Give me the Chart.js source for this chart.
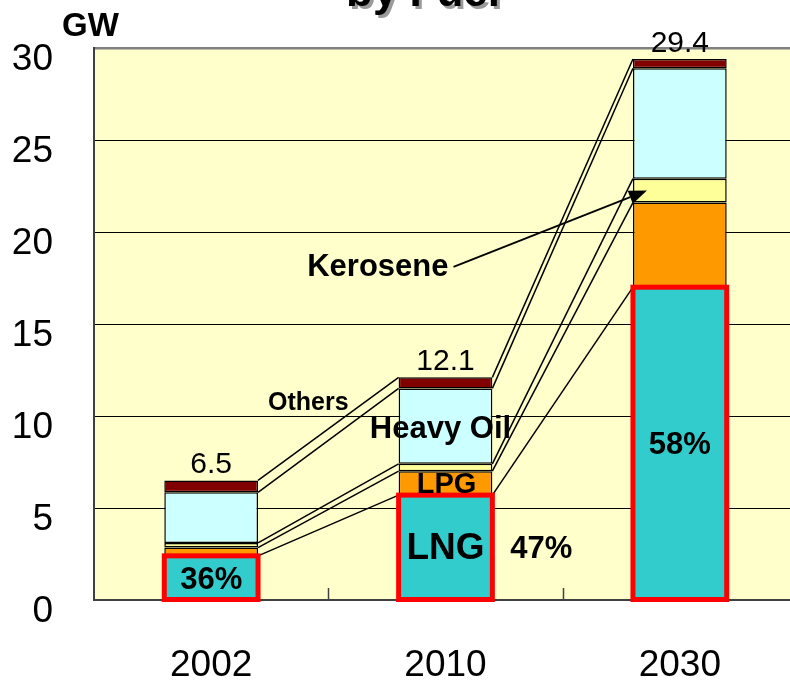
<!DOCTYPE html>
<html>
<head>
<meta charset="utf-8">
<script src="https://cdn.jsdelivr.net/npm/chart.js@4.4.1/dist/chart.umd.min.js"></script>
<style>
  html, body { margin: 0; padding: 0; background: #ffffff; overflow: hidden; width: 790px; height: 684px; }
  canvas { display: block; }
</style>
</head>
<body>
<canvas id="c" width="800" height="684"></canvas>
<script>
const categories = ['2002', '2010', '2030'];
const lng = [2.4, 5.7, 17.0];
const lpg = [0.45, 1.3, 4.6];
const kerosene = [0.25, 0.4, 1.3];
const heavyOil = [2.75, 4.1, 6.0];
const others = [0.65, 0.6, 0.5];
const totalLabels = ['6.5', '12.1', '29.4'];
const lngShares = ['36%', '47%', '58%'];
const yTicks = [0, 5, 10, 15, 20, 25, 30];

const FONT = '"Liberation Sans", Arial, Helvetica, sans-serif';

const overlay = {
  id: 'overlay',
  beforeDraw(chart) {
    const { ctx, chartArea: a } = chart;
    ctx.save();
    ctx.fillStyle = '#FFFFCC';
    ctx.fillRect(a.left, a.top, a.right - a.left, a.bottom - a.top);
    ctx.restore();
  },
  afterDatasetsDraw(chart) {
    const ctx = chart.ctx;
    const a = chart.chartArea;
    const ys = chart.scales.y;
    const metas = chart.data.datasets.map((d, i) => chart.getDatasetMeta(i));
    const el = (i, k) => metas[i].data[k].getProps(['x', 'y', 'base', 'width'], true);
    const n = categories.length;

    ctx.save();
    ctx.strokeStyle = '#000';
    ctx.lineWidth = 1.5;
    for (let i = 0; i < metas.length; i++) {
      for (let k = 0; k < n - 1; k++) {
        const p = el(i, k), q = el(i, k + 1);
        ctx.beginPath();
        ctx.moveTo(p.x + p.width / 2, p.y);
        ctx.lineTo(q.x - q.width / 2, q.y);
        ctx.stroke();
      }
    }
    ctx.strokeStyle = '#FF0000';
    ctx.lineWidth = 5;
    for (let k = 0; k < n; k++) {
      const p = el(0, k);
      ctx.strokeRect(p.x - p.width / 2, p.y, p.width, p.base - p.y);
    }
    ctx.strokeStyle = '#404040';
    ctx.lineWidth = 1.5;
    for (let k = 0; k < n; k++) {
      const p = el(0, k);
      const next = k < n - 1 ? el(0, k + 1).x : p.x + (p.x - el(0, k - 1).x);
      const bx = Math.round((p.x + next) / 2) + 0.5;
      ctx.beginPath();
      ctx.moveTo(bx, a.bottom);
      ctx.lineTo(bx, a.bottom - 12);
      ctx.stroke();
    }

    ctx.fillStyle = '#000';
    ctx.textAlign = 'center';
    ctx.textBaseline = 'alphabetic';
    ctx.font = '30px ' + FONT;
    for (let k = 0; k < n; k++) {
      const p = el(4, k);
      ctx.fillText(totalLabels[k], p.x, p.y - 7);
    }

    ctx.textBaseline = 'middle';
    ctx.font = 'bold 31px ' + FONT;
    const s0 = el(0, 0);
    ctx.fillText(lngShares[0], s0.x, (s0.y + s0.base) / 2 + 3);
    const s2 = el(0, 2);
    ctx.fillText(lngShares[2], s2.x, (s2.y + s2.base) / 2 + 2);
    const s1 = el(0, 1);
    ctx.textAlign = 'left';
    ctx.fillText(lngShares[1], s1.x + s1.width / 2 + 18, (s1.y + s1.base) / 2 + 2);
    ctx.textAlign = 'center';
    ctx.font = 'bold 37px ' + FONT;
    ctx.fillText('LNG', s1.x, (s1.y + s1.base) / 2 + 1);

    const l1 = el(1, 1);
    ctx.font = 'bold 29px ' + FONT;
    ctx.fillText('LPG', l1.x + 1, (l1.y + l1.base) / 2 + 2);

    const h1 = el(3, 1);
    ctx.font = 'bold 31px ' + FONT;
    ctx.fillText('Heavy Oil', h1.x - 5, (h1.y + h1.base) / 2 + 3);

    const o0 = el(4, 0), o1 = el(4, 1);
    ctx.font = 'bold 25px ' + FONT;
    ctx.fillText('Others', (o0.x + o1.x) / 2 - 20, ys.getPixelForValue(10.7));

    const k1 = el(2, 1), k2 = el(2, 2);
    ctx.font = 'bold 31px ' + FONT;
    ctx.textAlign = 'right';
    const ty = ys.getPixelForValue(18.1);
    const tr = k1.x + 3;
    ctx.fillText('Kerosene', tr, ty);
    const sx = tr + 5, sy = ty;
    const tx = k2.x - k2.width / 2 + 14, tyy = (k2.y + k2.base) / 2;
    ctx.strokeStyle = '#000';
    ctx.lineWidth = 1.8;
    const ang = Math.atan2(tyy - sy, tx - sx);
    const L = 18, W = 7;
    const bxh = tx - L * Math.cos(ang), byh = tyy - L * Math.sin(ang);
    ctx.beginPath();
    ctx.moveTo(sx, sy);
    ctx.lineTo(bxh, byh);
    ctx.stroke();
    ctx.beginPath();
    ctx.moveTo(tx, tyy);
    ctx.lineTo(bxh + W * Math.sin(ang), byh - W * Math.cos(ang));
    ctx.lineTo(bxh - W * Math.sin(ang), byh + W * Math.cos(ang));
    ctx.closePath();
    ctx.fillStyle = '#000';
    ctx.fill();

    ctx.restore();
  },
  afterDraw(chart) {
    const ctx = chart.ctx;
    ctx.save();
    ctx.font = 'bold 44px ' + FONT;
    ctx.textAlign = 'left';
    ctx.textBaseline = 'alphabetic';
    ctx.fillStyle = '#9a9a9a';
    ctx.fillText('by Fuel', 349, 9);
    ctx.fillStyle = '#000';
    ctx.fillText('by Fuel', 346, 6);
    ctx.font = 'bold 33px ' + FONT;
    ctx.fillText('GW', 62, 36);
    ctx.restore();
  }
};

const mk = (label, data, color) => ({
  label, data, backgroundColor: color,
  borderColor: '#000', borderWidth: 1.5, borderSkipped: false,
  barPercentage: 0.4, categoryPercentage: 1.0
});

new Chart(document.getElementById('c'), {
  type: 'bar',
  data: {
    labels: categories,
    datasets: [
      mk('LNG', lng, '#33CCCC'),
      mk('LPG', lpg, '#FF9900'),
      mk('Kerosene', kerosene, '#FFFF99'),
      mk('Heavy Oil', heavyOil, '#CCFFFF'),
      mk('Others', others, '#800000')
    ]
  },
  options: {
    responsive: false,
    animation: false,
    devicePixelRatio: 1,
    layout: { padding: { left: 0, top: 48, right: 3, bottom: 0 } },
    plugins: { legend: { display: false }, tooltip: { enabled: false }, title: { display: false } },
    scales: {
      x: {
        stacked: true,
        grid: { display: false, drawTicks: false },
        border: { display: true, color: '#404040', width: 2 },
        ticks: { color: '#000', font: { family: FONT, size: 37 }, padding: 44, maxRotation: 0 },
        afterFit(s) { s.height = 84; s.paddingLeft = 0; s.paddingRight = 0; }
      },
      y: {
        stacked: true,
        min: 0, max: 30,
        afterBuildTicks(s) { s.ticks = yTicks.map(v => ({ value: v })); },
        grid: {
          drawTicks: false,
          color: c => (c.tick && c.tick.value === 30) ? '#808080' : (c.tick && c.tick.value === 0 ? 'rgba(0,0,0,0)' : '#000'),
          lineWidth: c => (c.tick && c.tick.value === 30) ? 2.5 : 1
        },
        border: { display: true, color: '#404040', width: 2 },
        ticks: { color: '#000', font: { family: FONT, size: 37 }, padding: 41, labelOffset: 12 },
        afterFit(s) { s.width = 94; s.paddingTop = 0; s.paddingBottom = 0; }
      }
    }
  },
  plugins: [overlay]
});
</script>
</body>
</html>
